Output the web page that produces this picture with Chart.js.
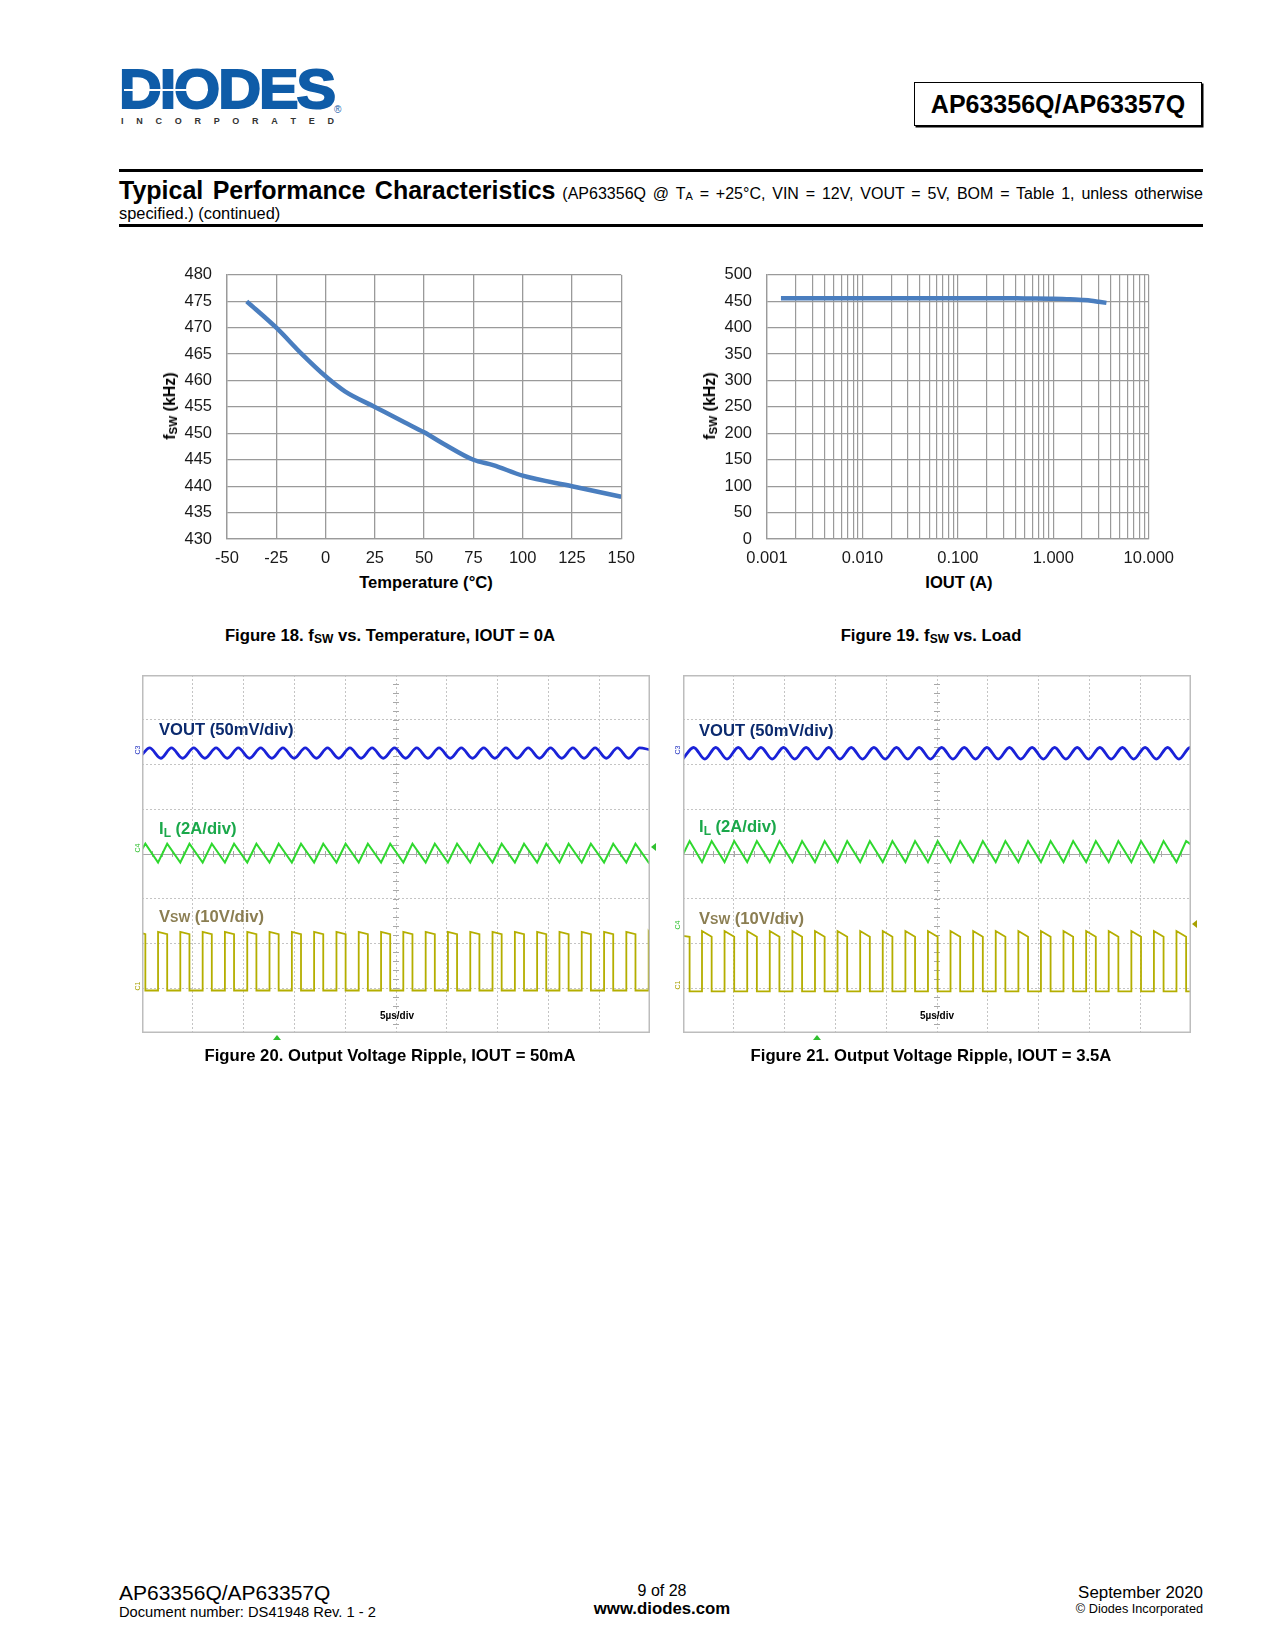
<!DOCTYPE html>
<html>
<head>
<meta charset="utf-8">
<script src="https://cdn.jsdelivr.net/npm/chart.js@4.4.1/dist/chart.umd.min.js"></script>
<style>
  html,body{margin:0;padding:0;background:#fff;}
  body{width:1275px;height:1650px;position:relative;font-family:"Liberation Sans",Arial,Helvetica,sans-serif;color:#000;overflow:hidden;}
  .abs{position:absolute;}
  .cap{font-weight:bold;font-size:16.7px;white-space:nowrap;transform:translateX(-50%);}
  .cap sub{font-size:12px;vertical-align:-2px;line-height:0;}
  .ytitle{font-weight:bold;font-size:16px;white-space:nowrap;transform:translate(-50%,-50%) rotate(-90deg);}
  .ytitle sub{font-size:11.5px;vertical-align:-2px;line-height:0;}
  .xtitle{font-weight:bold;font-size:16.6px;white-space:nowrap;transform:translate(-50%,-50%);}
  .slabel{font-weight:bold;font-size:16.6px;white-space:nowrap;transform:translateY(-50%);}
  .tiny{font-size:7px;white-space:nowrap;transform:translate(-50%,-50%) rotate(-90deg);}
  canvas{position:absolute;}
</style>
</head>
<body>
<!-- header -->
<div class="abs" style="left:119px;top:61px;font-size:56px;line-height:56px;font-weight:bold;color:#0f5ca8;-webkit-text-stroke:2px #0f5ca8;transform-origin:0 0;transform:scaleX(1.06);letter-spacing:-2px;">DIODES</div>
<div class="abs" style="left:124px;top:89px;width:84px;height:2px;background:#fff;"></div>
<div class="abs" style="left:121px;top:116px;width:213px;display:flex;justify-content:space-between;font-size:9px;font-weight:bold;color:#333;line-height:10px;">
  <span>I</span><span>N</span><span>C</span><span>O</span><span>R</span><span>P</span><span>O</span><span>R</span><span>A</span><span>T</span><span>E</span><span>D</span>
</div>
<div class="abs" style="left:334px;top:104px;font-size:10px;color:#0f5ca8;">®</div>
<div class="abs" style="left:914px;top:82px;width:286px;height:42px;border:1.5px solid #000;box-shadow:1.5px 1.5px 0 #000;font-weight:bold;font-size:25px;line-height:42px;text-align:center;">AP63356Q/AP63357Q</div>

<div class="abs" style="left:119px;top:169px;width:1084px;height:3px;background:#000;"></div>
<div class="abs" style="left:119px;top:176px;width:1084px;font-size:16px;line-height:28px;text-align:justify;text-align-last:justify;white-space:nowrap;"><span style="font-size:25px;font-weight:bold;">Typical Performance Characteristics</span> (AP63356Q @ T<sub style="font-size:11px;vertical-align:-1px;line-height:0;">A</sub> = +25°C, VIN = 12V, VOUT = 5V, BOM = Table 1, unless otherwise</div>
<div class="abs" style="left:119px;top:204px;font-size:16.4px;line-height:18px;">specified.) (continued)</div>
<div class="abs" style="left:119px;top:224px;width:1084px;height:3px;background:#000;"></div>

<!-- figure 18 -->
<canvas id="c18" width="505" height="319" style="left:140px;top:250px;width:505px;height:319px;"></canvas>
<div class="abs ytitle" style="left:170px;top:406px;">f<sub>SW</sub> (kHz)</div>
<div class="abs xtitle" style="left:426px;top:583px;">Temperature (°C)</div>
<div class="abs cap" style="left:390px;top:626px;">Figure 18. f<sub>SW</sub> vs. Temperature, IOUT = 0A</div>

<!-- figure 19 -->
<canvas id="c19" width="504" height="319" style="left:680px;top:250px;width:504px;height:319px;"></canvas>
<div class="abs ytitle" style="left:710px;top:406px;">f<sub>SW</sub> (kHz)</div>
<div class="abs xtitle" style="left:959px;top:583px;">IOUT (A)</div>
<div class="abs cap" style="left:931px;top:626px;">Figure 19. f<sub>SW</sub> vs. Load</div>

<!-- figure 20 -->
<canvas id="c20" width="508" height="358" style="left:142px;top:675px;width:508px;height:358px;"></canvas>
<div class="abs slabel" style="left:159px;top:730px;color:#0b2a6e;">VOUT (50mV/div)</div>
<div class="abs slabel" style="left:159px;top:829px;color:#1aa84a;">I<sub style="font-size:12px;vertical-align:-3px;line-height:0;">L</sub> (2A/div)</div>
<div class="abs slabel" style="left:159px;top:917px;color:#8b7e52;">V<span style="font-size:12.5px;">SW</span> (10V/div)</div>
<div class="abs" style="left:397px;top:1010px;transform:translateX(-50%);font-size:10px;font-weight:bold;">5µs/div</div>
<div class="abs tiny" style="left:137px;top:750px;color:#2030c0;">C3</div>
<div class="abs tiny" style="left:137px;top:848px;color:#30c030;">C4</div>
<div class="abs tiny" style="left:137px;top:986px;color:#a8a000;">C1</div>
<div class="abs" style="left:651px;top:843px;width:0;height:0;border-top:4px solid transparent;border-bottom:4px solid transparent;border-right:5px solid #30c030;"></div>
<div class="abs" style="left:273px;top:1035px;width:0;height:0;border-left:4px solid transparent;border-right:4px solid transparent;border-bottom:5px solid #30c030;"></div>
<div class="abs cap" style="left:390px;top:1046px;">Figure 20. Output Voltage Ripple, IOUT = 50mA</div>

<!-- figure 21 -->
<canvas id="c21" width="508" height="358" style="left:683px;top:675px;width:508px;height:358px;"></canvas>
<div class="abs slabel" style="left:699px;top:731px;color:#0b2a6e;">VOUT (50mV/div)</div>
<div class="abs slabel" style="left:699px;top:827px;color:#1aa84a;">I<sub style="font-size:12px;vertical-align:-3px;line-height:0;">L</sub> (2A/div)</div>
<div class="abs slabel" style="left:699px;top:919px;color:#8b7e52;">V<span style="font-size:12.5px;">SW</span> (10V/div)</div>
<div class="abs" style="left:937px;top:1010px;transform:translateX(-50%);font-size:10px;font-weight:bold;">5µs/div</div>
<div class="abs tiny" style="left:677px;top:750px;color:#2030c0;">C3</div>
<div class="abs tiny" style="left:677px;top:925px;color:#30c030;">C4</div>
<div class="abs tiny" style="left:677px;top:985px;color:#a8a000;">C1</div>
<div class="abs" style="left:1192px;top:920px;width:0;height:0;border-top:4px solid transparent;border-bottom:4px solid transparent;border-right:5px solid #a8a000;"></div>
<div class="abs" style="left:813px;top:1035px;width:0;height:0;border-left:4px solid transparent;border-right:4px solid transparent;border-bottom:5px solid #30c030;"></div>
<div class="abs cap" style="left:931px;top:1046px;">Figure 21. Output Voltage Ripple, IOUT = 3.5A</div>

<!-- footer -->
<div class="abs" style="left:119px;top:1582px;font-size:21px;line-height:22px;">AP63356Q/AP63357Q</div>
<div class="abs" style="left:119px;top:1604px;font-size:14.7px;line-height:16px;">Document number: DS41948 Rev. 1 - 2</div>
<div class="abs" style="left:662px;top:1582px;transform:translateX(-50%);font-size:16px;line-height:18px;">9 of 28</div>
<div class="abs" style="left:662px;top:1600px;transform:translateX(-50%);font-size:16.8px;font-weight:bold;line-height:18px;">www.diodes.com</div>
<div class="abs" style="right:72px;top:1584px;font-size:16.9px;line-height:18px;">September 2020</div>
<div class="abs" style="right:72px;top:1602px;font-size:12.7px;line-height:14px;">© Diodes Incorporated</div>

<script>
// ---------- Figure 18: fsw vs temperature ----------
const tempC   = [-40, -25, -12, 0, 10, 25, 40, 50, 60, 75, 85, 100, 125, 150];
const fswTemp = [475, 470, 465, 460.8, 457.9, 455, 452.1, 450.2, 448, 445, 444, 442, 440, 438];
const tempTicks = [-50, -25, 0, 25, 50, 75, 100, 125, 150];

// ---------- Figure 19: fsw vs load ----------
const ioutA   = [0.0014, 0.003, 0.01, 0.03, 0.1, 0.3, 0.5, 1.0, 1.5, 2.0, 2.5, 3.0, 3.6];
const fswLoad = [456, 456, 456, 456, 456, 456, 455.5, 455, 454, 452.5, 451, 449, 447];
const loadDecades = [0.001, 0.01, 0.1, 1, 10];

// ---------- Figure 20: scope, IOUT = 50mA (time in us, amplitude in divisions) ----------
const vsw20Rise = [1.58, 3.77, 5.97, 8.16, 10.36, 12.55, 14.75, 16.94, 19.14, 21.33, 23.53, 25.72, 27.92, 30.11, 32.31, 34.50, 36.70, 38.89, 41.09, 43.28, 45.48, 47.67, 49.87];
const vsw20Fall = [0.33, 2.48, 4.67, 6.87, 9.06, 11.26, 13.45, 15.65, 17.84, 20.04, 22.23, 24.43, 26.62, 28.82, 31.01, 33.21, 35.40, 37.60, 39.79, 41.99, 44.18, 46.38, 48.57];
const vsw20Level = {highStart: -1.74, highEnd: -1.79, low: -3.05};
const il20Level = {peak: 0.23, trough: -0.19, start: 0.10, end: -0.17};
const vout20Peak   = [0.75, 2.90, 5.09, 7.29, 9.48, 11.68, 13.87, 16.07, 18.26, 20.46, 22.65, 24.85, 27.04, 29.24, 31.43, 33.63, 35.82, 38.02, 40.21, 42.41, 44.60, 46.80, 48.99];
const vout20Trough = [1.85, 4.00, 6.19, 8.39, 10.58, 12.78, 14.97, 17.17, 19.36, 21.56, 23.75, 25.95, 28.14, 30.34, 32.53, 34.73, 36.92, 39.12, 41.31, 43.51, 45.70, 47.90];
const vout20Level = {peak: 2.37, trough: 2.14, start: 2.22, end: 2.33};

// ---------- Figure 21: scope, IOUT = 3.5A ----------
const vsw21Rise = [1.87, 4.09, 6.32, 8.54, 10.77, 12.99, 15.21, 17.44, 19.66, 21.89, 24.11, 26.33, 28.56, 30.78, 33.01, 35.23, 37.45, 39.68, 41.90, 44.13, 46.35, 48.57];
const vsw21Fall = [0.65, 2.82, 5.04, 7.27, 9.49, 11.72, 13.94, 16.16, 18.39, 20.61, 22.84, 25.06, 27.28, 29.51, 31.73, 33.96, 36.18, 38.40, 40.63, 42.85, 45.08, 47.30, 49.52];
const vsw21Level = {highStart: -1.72, highEnd: -1.85, low: -3.07};
const il21Level = {peak: 0.29, trough: -0.18, start: -0.01, end: 0.21};
const vout21Peak   = [1.04, 3.22, 5.44, 7.67, 9.89, 12.12, 14.34, 16.56, 18.79, 21.01, 23.24, 25.46, 27.68, 29.91, 32.13, 34.36, 36.58, 38.80, 41.03, 43.25, 45.48, 47.70, 49.92];
const vout21Trough = [2.15, 4.33, 6.55, 8.78, 11.00, 13.23, 15.45, 17.67, 19.90, 22.12, 24.35, 26.57, 28.79, 31.02, 33.24, 35.47, 37.69, 39.91, 42.14, 44.36, 46.59, 48.81];
const vout21Level = {peak: 2.38, trough: 2.12, start: 2.13, end: 2.37};

const scopeSpan = {tMin: 0, tMax: 50, tDiv: 5, yMin: -4, yMax: 4};

// ---------- helpers that turn the read values into point lists ----------
function squarePoints(rise, fall, lv, t0, t1) {
  const edges = rise.map(t => ({t, up: true})).concat(fall.map(t => ({t, up: false}))).sort((a, b) => a.t - b.t);
  let high = !edges.length || !edges[0].up;
  const pts = [{x: t0, y: high ? lv.highEnd + 0.02 : lv.low}];
  for (const e of edges) {
    if (e.t > t1) break;
    if (e.up) { pts.push({x: e.t, y: lv.low}); pts.push({x: e.t, y: lv.highStart}); }
    else { pts.push({x: e.t, y: lv.highEnd}); pts.push({x: e.t, y: lv.low}); }
    high = e.up;
  }
  pts.push({x: t1, y: high ? lv.highEnd : lv.low});
  return pts;
}
function vertexPoints(peaks, troughs, lv, t0, t1) {
  const v = peaks.map(t => ({x: t, y: lv.peak})).concat(troughs.map(t => ({x: t, y: lv.trough})))
    .filter(p => p.x > t0 && p.x < t1).sort((a, b) => a.x - b.x);
  return [{x: t0, y: lv.start}].concat(v, [{x: t1, y: lv.end}]);
}

const FONT = '"Liberation Sans", Arial, Helvetica, sans-serif';
const GRID = '#9a9a9a';
const TICKFONT = {family: FONT, size: 16.5};

// ---------- Figure 18 chart ----------
new Chart(document.getElementById('c18'), {
  type: 'line',
  data: {datasets: [{
    data: tempC.map((t, i) => ({x: t, y: fswTemp[i]})),
    borderColor: '#4a7ebf', borderWidth: 4.5, pointRadius: 0,
    cubicInterpolationMode: 'monotone', fill: false
  }]},
  options: {
    responsive: false, animation: false,
    layout: {padding: {top: 24, right: 13, left: 0, bottom: 0}},
    plugins: {legend: {display: false}, tooltip: {enabled: false}},
    scales: {
      x: {type: 'linear', min: tempTicks[0], max: tempTicks[tempTicks.length - 1],
        afterBuildTicks: s => { s.ticks = tempTicks.map(v => ({value: v})); },
        ticks: {autoSkip: false, maxRotation: 0, padding: 10, color: '#1a1a1a', font: TICKFONT},
        grid: {color: GRID, lineWidth: 1.3, drawTicks: false}, border: {color: GRID, width: 1.3},
        afterFit: s => { s.height = 30; }},
      y: {min: 430, max: 480,
        ticks: {stepSize: 5, autoSkip: false, padding: 15, color: '#1a1a1a', font: TICKFONT},
        grid: {color: GRID, lineWidth: 1.3, drawTicks: false}, border: {color: GRID, width: 1.3},
        afterFit: s => { s.width = 87; }}
    }
  }
});

// ---------- Figure 19 chart ----------
new Chart(document.getElementById('c19'), {
  type: 'line',
  data: {datasets: [{
    data: ioutA.map((a, i) => ({x: a, y: fswLoad[i]})),
    borderColor: '#4a7ebf', borderWidth: 4.5, pointRadius: 0,
    cubicInterpolationMode: 'monotone', fill: false
  }]},
  options: {
    responsive: false, animation: false,
    layout: {padding: {top: 24, right: 26, left: 0, bottom: 0}},
    plugins: {legend: {display: false}, tooltip: {enabled: false}},
    scales: {
      x: {type: 'logarithmic', min: loadDecades[0], max: loadDecades[loadDecades.length - 1],
        afterBuildTicks: s => {
          const t = [];
          for (let d = 0; d < loadDecades.length - 1; d++)
            for (let m = 1; m <= 9; m++) t.push({value: +(loadDecades[d] * m).toPrecision(6)});
          t.push({value: loadDecades[loadDecades.length - 1]});
          s.ticks = t;
        },
        ticks: {autoSkip: false, maxRotation: 0, padding: 10, color: '#1a1a1a', font: TICKFONT,
          callback: v => loadDecades.some(d => Math.abs(d - v) < d * 1e-6) ? Number(v).toFixed(3) : ''},
        grid: {color: GRID, lineWidth: 1.2, drawTicks: false}, border: {color: GRID, width: 1.3},
        afterFit: s => { s.height = 30; }},
      y: {min: 0, max: 500,
        ticks: {stepSize: 50, autoSkip: false, padding: 15, color: '#1a1a1a', font: TICKFONT},
        grid: {color: GRID, lineWidth: 1.3, drawTicks: false}, border: {color: GRID, width: 1.3},
        afterFit: s => { s.width = 87; }}
    }
  }
});

// ---------- scope charts ----------
const scopeFrame = {
  id: 'scopeFrame',
  beforeDatasetsDraw(chart) {
    const {ctx, chartArea: a, scales: {x, y}} = chart;
    ctx.save();
    const cy = y.getPixelForValue(0), cx = x.getPixelForValue((scopeSpan.tMin + scopeSpan.tMax) / 2);
    ctx.strokeStyle = '#a8a8a8'; ctx.lineWidth = 1;
    ctx.beginPath(); ctx.moveTo(a.left, Math.round(cy) + 0.5); ctx.lineTo(a.right, Math.round(cy) + 0.5); ctx.stroke();
    ctx.beginPath();
    for (let t = scopeSpan.tMin; t <= scopeSpan.tMax + 1e-9; t += scopeSpan.tDiv / 5) {
      const px = Math.round(x.getPixelForValue(t)) + 0.5;
      ctx.moveTo(px, cy - 3); ctx.lineTo(px, cy + 3);
    }
    for (let v = scopeSpan.yMin; v <= scopeSpan.yMax + 1e-9; v += 0.2) {
      const py = Math.round(y.getPixelForValue(v)) + 0.5;
      ctx.moveTo(cx - 3, py); ctx.lineTo(cx + 3, py);
    }
    ctx.stroke();
    ctx.restore();
  },
  afterDraw(chart) {
    const {ctx, chartArea: a} = chart;
    ctx.save();
    ctx.strokeStyle = '#bdbdbd'; ctx.lineWidth = 1.5;
    ctx.strokeRect(a.left + 0.75, a.top + 0.75, a.width - 1.5, a.height - 1.5);
    ctx.restore();
  }
};

function scopeChart(id, vsw, il, vout) {
  new Chart(document.getElementById(id), {
    type: 'line',
    data: {datasets: [
      {data: vout, borderColor: '#1a22d8', borderWidth: 2.8, pointRadius: 0, cubicInterpolationMode: 'monotone', fill: false},
      {data: il, borderColor: '#2fd82f', borderWidth: 2, pointRadius: 0, tension: 0, fill: false},
      {data: vsw, borderColor: '#b4ae00', borderWidth: 1.8, pointRadius: 0, tension: 0, fill: false}
    ]},
    options: {
      responsive: false, animation: false,
      layout: {padding: 0},
      plugins: {legend: {display: false}, tooltip: {enabled: false}},
      scales: {
        x: {type: 'linear', min: scopeSpan.tMin, max: scopeSpan.tMax,
          ticks: {display: false, stepSize: scopeSpan.tDiv},
          grid: {color: '#c4c4c4', lineWidth: 1, drawTicks: false},
          border: {display: false, dash: [2, 2]},
          afterFit: s => { s.height = 0; }},
        y: {min: scopeSpan.yMin, max: scopeSpan.yMax,
          ticks: {display: false, stepSize: 1},
          grid: {color: '#c4c4c4', lineWidth: 1, drawTicks: false},
          border: {display: false, dash: [2, 2]},
          afterFit: s => { s.width = 0; }}
      }
    },
    plugins: [scopeFrame]
  });
}

scopeChart('c20',
  squarePoints(vsw20Rise, vsw20Fall, vsw20Level, scopeSpan.tMin, scopeSpan.tMax),
  vertexPoints(vsw20Fall, vsw20Rise, il20Level, scopeSpan.tMin, scopeSpan.tMax),
  vertexPoints(vout20Peak, vout20Trough, vout20Level, scopeSpan.tMin, scopeSpan.tMax));
scopeChart('c21',
  squarePoints(vsw21Rise, vsw21Fall, vsw21Level, scopeSpan.tMin, scopeSpan.tMax),
  vertexPoints(vsw21Fall, vsw21Rise, il21Level, scopeSpan.tMin, scopeSpan.tMax),
  vertexPoints(vout21Peak, vout21Trough, vout21Level, scopeSpan.tMin, scopeSpan.tMax));
</script>
</body>
</html>
